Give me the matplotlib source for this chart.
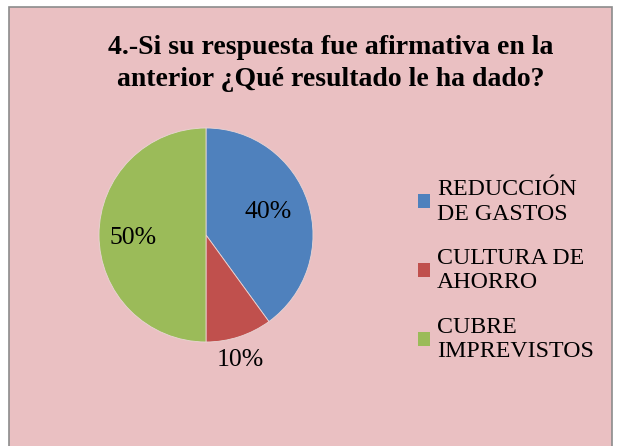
import matplotlib
matplotlib.use("Agg")
import matplotlib.pyplot as plt
from matplotlib.patches import Rectangle, Patch

title = "4.-Si su respuesta fue afirmativa en la\nanterior ¿Qué resultado le ha dado?"
categories = ["REDUCCIÓN\nDE GASTOS", "CULTURA DE\nAHORRO", "CUBRE\nIMPREVISTOS"]
values = [40, 10, 50]
colors = ["#4F81BD", "#C0504D", "#9BBB59"]

W, H = 618, 446
fig = plt.figure(figsize=(W / 100, H / 100), dpi=100)
fig.patch.set_facecolor("white")

bgax = fig.add_axes([0, 0, 1, 1], zorder=-5)
bgax.set_xlim(0, W)
bgax.set_ylim(H, 0)
bgax.axis("off")
bgax.add_patch(Rectangle((9, 7), 612 - 9, H, facecolor="#EAC0C2",
                         edgecolor="#8C8C8C", linewidth=1.2))

serif = ["Liberation Serif", "DejaVu Serif"]

fig.text(331 / W, 1 - 63.5 / H, title, ha="center", va="center", fontsize=20,
         fontweight="bold", family=serif, linespacing=1.32)

cx, cy, r = 206, 235, 107
ax = fig.add_axes([(cx - r) / W, 1 - (cy + r) / H, 2 * r / W, 2 * r / H], zorder=1)
ax.set_facecolor("none")
wedges, _ = ax.pie(values, colors=colors, startangle=90, counterclock=False,
                   wedgeprops=dict(linewidth=0.6, edgecolor="#E9D5D5"))
ax.set_xlim(-1, 1)
ax.set_ylim(-1, 1)
ax.set_aspect("equal")
ax.axis("off")

label_pos = [(268, 212), (240, 360), (133, 238)]
for v, (px, py) in zip(values, label_pos):
    fig.text(px / W, 1 - py / H, f"{v}%", ha="center", va="center",
             fontsize=18.5, family=serif, zorder=5)

handles = [Patch(facecolor=c, edgecolor="none") for c in colors]
leg = fig.legend(handles, categories, loc="upper left",
                 bbox_to_anchor=(418 / W, 1 - 179 / H), frameon=False,
                 prop=dict(family=serif, size=17.2), handlelength=0.5,
                 handleheight=0.5, handletextpad=0.3, labelspacing=0.98,
                 borderaxespad=0, borderpad=0)
for t in leg.get_texts():
    t.set_linespacing(1.22)

fig.savefig("out.png", dpi=100, facecolor=fig.get_facecolor())
